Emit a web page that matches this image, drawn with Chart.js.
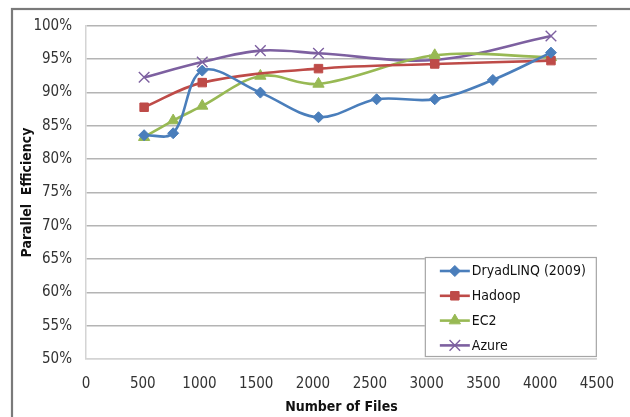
<!DOCTYPE html>
<html>
<head>
<meta charset="utf-8">
<script src="https://cdn.jsdelivr.net/npm/chart.js@4/dist/chart.umd.min.js"></script>
<style>
  html, body { margin: 0; padding: 0; background: #ffffff; }
  #wrap { width: 630px; height: 417px; position: relative; }
</style>
</head>
<body>
<div id="wrap"><canvas id="c" width="630" height="417"></canvas></div>
<script>
// Parallel efficiency measured against the number of input files
const seriesNames = ['DryadLINQ (2009)', 'Hadoop', 'EC2', 'Azure'];

const dryadFiles = [512, 768, 1024, 1536, 2048, 2560, 3072, 3584, 4096];
const dryadEff   = [83.6, 83.9, 93.3, 90.0, 86.3, 89.0, 89.0, 91.9, 96.0];

const hadoopFiles = [512, 1024, 2048, 3072, 4096];
const hadoopEff   = [87.8, 91.5, 93.6, 94.3, 94.8];

const ec2Files = [512, 768, 1024, 1536, 2048, 3072, 4096];
const ec2Eff   = [83.3, 85.8, 88.0, 92.5, 91.3, 95.6, 95.3];

const azureFiles = [512, 1024, 1536, 2048, 3072, 4096];
const azureEff   = [92.3, 94.6, 96.3, 95.9, 94.9, 98.5];

const xTicks = [0, 500, 1000, 1500, 2000, 2500, 3000, 3500, 4000, 4500];
const yTicks = [50, 55, 60, 65, 70, 75, 80, 85, 90, 95, 100];

const FONT = "'Liberation Sans Narrow', 'DejaVu Sans Condensed', Arial, sans-serif";

function toPoints(xs, ys) {
  return xs.map((x, i) => ({ x: x, y: ys[i] }));
}

function series(label, xs, ys, color, style, radius, bw) {
  return {
    label: label,
    data: toPoints(xs, ys),
    borderColor: color,
    backgroundColor: color,
    borderWidth: 2.6,
    tension: 0.35,
    pointStyle: style,
    pointRadius: radius,
    pointBorderWidth: bw,
    pointBorderColor: color,
    pointBackgroundColor: color,
    fill: false
  };
}

const datasets = [
  series(seriesNames[0], dryadFiles, dryadEff, '#4a7ebb', 'rectRot', 5.5, 1),
  series(seriesNames[1], hadoopFiles, hadoopEff, '#be4b48', 'rect', 6, 1),
  series(seriesNames[2], ec2Files, ec2Eff, '#98b954', 'triangle', 6.5, 1),
  series(seriesNames[3], azureFiles, azureEff, '#7d60a0', 'crossRot', 7.5, 1.4)
];

// outer frame of the chart
const framePlugin = {
  id: 'frame',
  beforeDraw(chart) {
    const ctx = chart.ctx;
    ctx.save();
    ctx.fillStyle = '#ffffff';
    ctx.fillRect(0, 0, chart.width, chart.height);
    ctx.strokeStyle = '#7a7a7a';
    ctx.lineWidth = 2.2;
    ctx.strokeRect(12, 9, chart.width + 40, chart.height + 40);
    ctx.restore();
  }
};

// boxed legend inside the lower right of the plot area
const boxLegendPlugin = {
  id: 'boxLegend',
  afterDraw(chart) {
    const ctx = chart.ctx;
    const area = chart.chartArea;
    const w = 172, h = 100;
    const left = area.right - w;
    const top = area.bottom - 2 - h;
    ctx.save();
    ctx.fillStyle = '#ffffff';
    ctx.fillRect(left, top, w, h);
    ctx.strokeStyle = '#a6a6a6';
    ctx.lineWidth = 1.2;
    ctx.strokeRect(left + 0.5, top + 0.5, w - 1, h - 1);
    chart.data.datasets.forEach((ds, i) => {
      const y = top + 14 + i * 24.8;
      const x0 = left + 15, x1 = left + 45;
      ctx.strokeStyle = ds.borderColor;
      ctx.lineWidth = 2.6;
      ctx.beginPath();
      ctx.moveTo(x0, y);
      ctx.lineTo(x1, y);
      ctx.stroke();
      ctx.fillStyle = ds.pointBackgroundColor;
      ctx.strokeStyle = ds.pointBorderColor;
      ctx.lineWidth = ds.pointBorderWidth;
      Chart.helpers.drawPoint(ctx, {
        pointStyle: ds.pointStyle,
        radius: ds.pointRadius,
        borderWidth: ds.pointBorderWidth,
        rotation: 0
      }, (x0 + x1) / 2, y);
      ctx.fillStyle = '#111111';
      ctx.font = '14px ' + FONT;
      ctx.textAlign = 'left';
      ctx.textBaseline = 'middle';
      ctx.fillText(ds.label, x1 + 2, y + 0.5);
    });
    ctx.restore();
  }
};

new Chart(document.getElementById('c'), {
  type: 'line',
  data: { datasets: datasets },
  options: {
    responsive: false,
    animation: false,
    layout: { padding: { top: 26, right: 30, bottom: 0, left: 0 } },
    plugins: {
      legend: { display: false },
      tooltip: { enabled: false }
    },
    scales: {
      x: {
        type: 'linear',
        min: xTicks[0],
        max: xTicks[xTicks.length - 1],
        afterBuildTicks(scale) { scale.ticks = xTicks.map(v => ({ value: v })); },
        afterFit(scale) { scale.height = 58; },
        grid: { display: false, drawTicks: false },
        border: { display: true, color: '#d4d4d4', width: 1.5 },
        ticks: {
          padding: 16,
          color: '#333333',
          font: { family: FONT, size: 15 },
          maxRotation: 0,
          autoSkip: false,
          callback: (v) => String(v)
        },
        title: {
          display: true,
          text: 'Number of Files',
          color: '#111111',
          font: { family: FONT, size: 14, weight: 'bold' },
          padding: { top: 0, bottom: 1 }
        }
      },
      y: {
        type: 'linear',
        min: yTicks[0],
        max: yTicks[yTicks.length - 1],
        afterBuildTicks(scale) { scale.ticks = yTicks.map(v => ({ value: v })); },
        afterFit(scale) { scale.width = 86; },
        grid: {
          drawTicks: false,
          color: (c) => (c.tick && c.tick.value === yTicks[0]) ? '#d4d4d4' : '#b4b4b4',
          lineWidth: 1.6
        },
        border: { display: true, color: '#d4d4d4', width: 1.5 },
        ticks: {
          padding: 14,
          color: '#333333',
          font: { family: FONT, size: 15 },
          callback: (v) => v + '%'
        },
        title: {
          display: true,
          text: 'Parallel  Efficiency',
          color: '#111111',
          font: { family: FONT, size: 14, weight: 'bold' },
          padding: { top: 19, bottom: 0 }
        }
      }
    }
  },
  plugins: [framePlugin, boxLegendPlugin]
});
</script>
</body>
</html>
